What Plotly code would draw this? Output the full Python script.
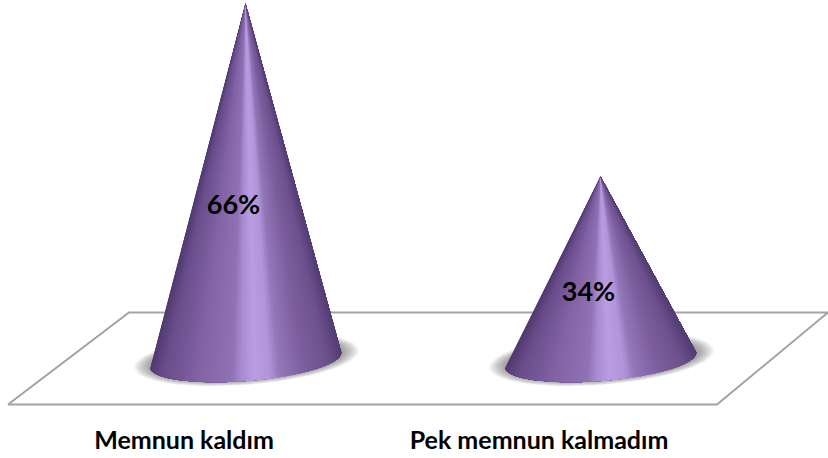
import math
import plotly.graph_objects as go

categories = ["Memnun kaldım", "Pek memnun kalmadım"]
values = [66, 34]
value_labels = ["66%", "34%"]
label_height_fraction = [0.43, 0.36]

W, H = 828, 458
BOTTOM = 41
PLOT_H = H - BOTTOM
X0_PX = 184.0       # pixel position of first category tick
X_UNIT = 355.0      # px per category
Y0_PX = 360.0       # pixel position of value 0
Y_UNIT = 5.4        # px per percent
GEOM_Y = 360.5      # floor geometry reference

DEPTH_PX = 61.5     # cones sit back on the floor, to the right of their ticks
SEMI_A, SEMI_B = 96.0, 21.0
TILT = math.atan2(15, 191)

STOPS = [
    (0.00, "#503a70"), (0.06, "#684c8a"), (0.25, "#8263a6"), (0.42, "#8f71b4"),
    (0.47, "#a98cd0"), (0.54, "#b99de2"), (0.62, "#b194da"), (0.67, "#9377b8"),
    (0.80, "#7c5e9e"), (0.93, "#6c508d"), (1.00, "#533d74"),
]


def hex2rgb(h):
    return tuple(int(h[i:i + 2], 16) for i in (1, 3, 5))


def shade(t):
    for (t0, c0), (t1, c1) in zip(STOPS, STOPS[1:]):
        if t <= t1:
            f = (t - t0) / (t1 - t0)
            a, b = hex2rgb(c0), hex2rgb(c1)
            return "rgb(%d,%d,%d)" % tuple(round(a[i] + (b[i] - a[i]) * f) for i in range(3))
    return STOPS[-1][1]


def dx(px):
    return px / X_UNIT


def dy(px):
    return px / Y_UNIT


def rim(cat, theta, a=SEMI_A, b=SEMI_B, sx=0.0, sy=0.0):
    """Point on the tilted base ellipse (theta 0..pi is the front edge)."""
    px = a * math.cos(theta) * math.cos(TILT) + b * math.sin(theta) * math.sin(TILT)
    py = a * math.cos(theta) * math.sin(TILT) - b * math.sin(theta) * math.cos(TILT)
    return cat + dx(DEPTH_PX + px + sx), dy(py + sy)


fig = go.Figure()

# floor of the 3D plot
floor_x = [dx(8 - X0_PX), dx(717 - X0_PX), dx(828 - X0_PX), dx(129 - X0_PX), dx(8 - X0_PX)]
floor_y = [dy(GEOM_Y - 405), dy(GEOM_Y - 405), dy(GEOM_Y - 313), dy(GEOM_Y - 313), dy(GEOM_Y - 405)]
fig.add_trace(go.Scatter(x=floor_x, y=floor_y, mode="lines",
                         line=dict(color="#a3a3a3", width=2)))

for cat, val in enumerate(values):
    # soft shadow
    for i in range(14):
        g = 1 - i / 14
        n = 72
        pts = [rim(cat, 2 * math.pi * k / n, SEMI_A + 17 * g, SEMI_B + 5 * g, 1, 1)
               for k in range(n + 1)]
        fig.add_trace(go.Scatter(x=[p[0] for p in pts], y=[p[1] for p in pts],
                                 mode="lines", fill="toself", line=dict(width=0),
                                 fillcolor="rgba(70,70,70,0.042)"))
    # cone surface: each layer covers everything from its own left edge to the right
    apex_x, apex_y = cat + dx(DEPTH_PX), val
    n = 90
    for k in range(n):
        ths = [math.pi * (1 - j / n) for j in range(k, n + 1)]
        pts = [rim(cat, th) for th in ths]
        t = (1 + math.cos(math.pi * (1 - (k + 0.5) / n))) / 2
        col = shade(t)
        fig.add_trace(go.Scatter(x=[apex_x] + [p[0] for p in pts] + [apex_x],
                                 y=[apex_y] + [p[1] for p in pts] + [apex_y],
                                 mode="lines", fill="toself", fillcolor=col,
                                 line=dict(width=0)))

# value labels
fig.add_trace(go.Scatter(
    x=[i + dx(DEPTH_PX - 12) for i in range(len(values))],
    y=[v * f for v, f in zip(values, label_height_fraction)],
    mode="text", text=value_labels, textposition="middle center",
    textfont=dict(family="Lato, 'Open Sans', sans-serif", size=27, color="#000000", weight="bold")))

fig.update_layout(
    width=W, height=H, autosize=False,
    margin=dict(l=0, r=0, t=0, b=BOTTOM),
    paper_bgcolor="white", plot_bgcolor="white",
    showlegend=False, hovermode=False,
    xaxis=dict(range=[-X0_PX / X_UNIT, (W - X0_PX) / X_UNIT], tickmode="array",
               tickvals=list(range(len(categories))), ticktext=categories,
               showgrid=False, zeroline=False, showline=False,
               ticks="outside", ticklen=1, tickcolor="rgba(0,0,0,0)",
               tickfont=dict(family="Lato, 'Open Sans', sans-serif", size=25, color="#000000", weight="bold")),
    yaxis=dict(range=[(Y0_PX - PLOT_H) / Y_UNIT, Y0_PX / Y_UNIT],
               visible=False, showgrid=False, zeroline=False),
)
fig.write_html("out.html", config=dict(displayModeBar=False),
               post_script="document.body.style.margin='0';document.body.style.overflow='hidden';")
